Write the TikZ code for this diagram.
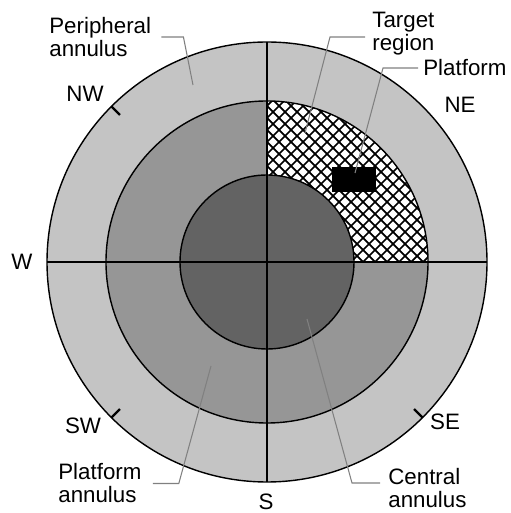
\documentclass[tikz,border=0pt]{standalone}
\usepackage{fontspec}
\setmainfont{Liberation Sans}
\begin{document}
\begin{tikzpicture}[
    ring/.style={draw=black, line width=0.8pt},
    tickmark/.style={line width=1.4pt},
    hatchline/.style={line width=1pt},
    leader/.style={draw=black!50, line width=0.6pt},
    lbl/.style={inner sep=0pt, font=\fontsize{12.7}{13.1}\selectfont},
    txt/.style={lbl, align=left, anchor=west}
  ]
    \useasboundingbox (-5.34, -5.02) rectangle (4.86, 5.24);
    \fill [black!23] (0, 0) circle (4.4);
    \fill [black!41] (0, 0) circle (3.22);
    \fill [black!61] (0, 0) circle (1.74);
    \fill [white] (1.74, 0) -- (3.22, 0) arc [start angle=0, end angle=90, radius=3.22]
      -- (0, 1.74) arc [start angle=90, end angle=0, radius=1.74] -- cycle;
    \begin{scope}
      \clip (1.74, 0) -- (3.22, 0) arc [start angle=0, end angle=90, radius=3.22]
        -- (0, 1.74) arc [start angle=90, end angle=0, radius=1.74] -- cycle;
      \foreach \i in {-14,...,28} {
        \draw [hatchline] (\i*0.24, 0) ++(-4, -4) -- ++(8, 8);
        \draw [hatchline] (\i*0.24, 0) ++(-4, 4) -- ++(8, -8);
      }
    \end{scope}
    \draw [ring] (0, 0) circle (4.4);
    \draw [ring] (0, 0) circle (3.22);
    \draw [ring] (0, 0) circle (1.74);
    \draw [ring] (-4.4, 0) -- (4.4, 0);
    \draw [ring] (0, -4.4) -- (0, 4.4);
    \foreach \a in {135, 180, 225, 270, 315}
      \draw [tickmark] (\a:4.16) -- (\a:4.4);
    \node (platform) [fill=black, inner sep=0pt, minimum width=0.88cm, minimum height=0.5cm] at (1.74, 1.65) {};

    \node (nw) [lbl] at (-3.64, 3.36) {NW};
    \node (w) [lbl] at (-4.9, 0) {W};
    \node (sw) [lbl] at (-3.68, -3.28) {SW};
    \node (s) [lbl] at (-0.02, -4.8) {S};
    \node (se) [lbl] at (3.56, -3.2) {SE};
    \node (ne) [lbl] at (3.86, 3.14) {NE};

    \node (peri) [txt] at (-4.36, 4.5) {Peripheral\\annulus};
    \node (target) [txt] at (2.1, 4.56) {Target\\region};
    \node (plat) [lbl, anchor=west] at (3.12, 3.88) {Platform};
    \node (pann) [txt] at (-4.18, -4.43) {Platform\\annulus};
    \node (cann) [txt] at (2.42, -4.53) {Central\\annulus};

    \coordinate (peritip) at (-1.48, 3.54);
    \coordinate (targettip) at (0.76, 2.58);
    \coordinate (plattip) at (1.76, 1.78);
    \coordinate (panntip) at (-1.12, -2.08);
    \coordinate (canntip) at (0.8, -1.14);
    \draw [leader, shorten <=0.2cm] (peri.east) -- ++(0.64, 0) -- (peritip);
    \draw [leader, shorten <=0.14cm] ([yshift=-0.06cm]target.west) -- ++(-0.84, 0) -- (targettip);
    \draw [leader, shorten <=0.1cm] (plat.west) -- ++(-0.8, 0) -- (plattip);
    \draw [leader, shorten <=0.22cm] (pann.east) -- ++(0.74, 0) -- (panntip);
    \draw [leader, shorten <=0.16cm] ([yshift=0.11cm]cann.west) -- ++(-0.72, 0) -- (canntip);
  \end{tikzpicture}
\end{document}
